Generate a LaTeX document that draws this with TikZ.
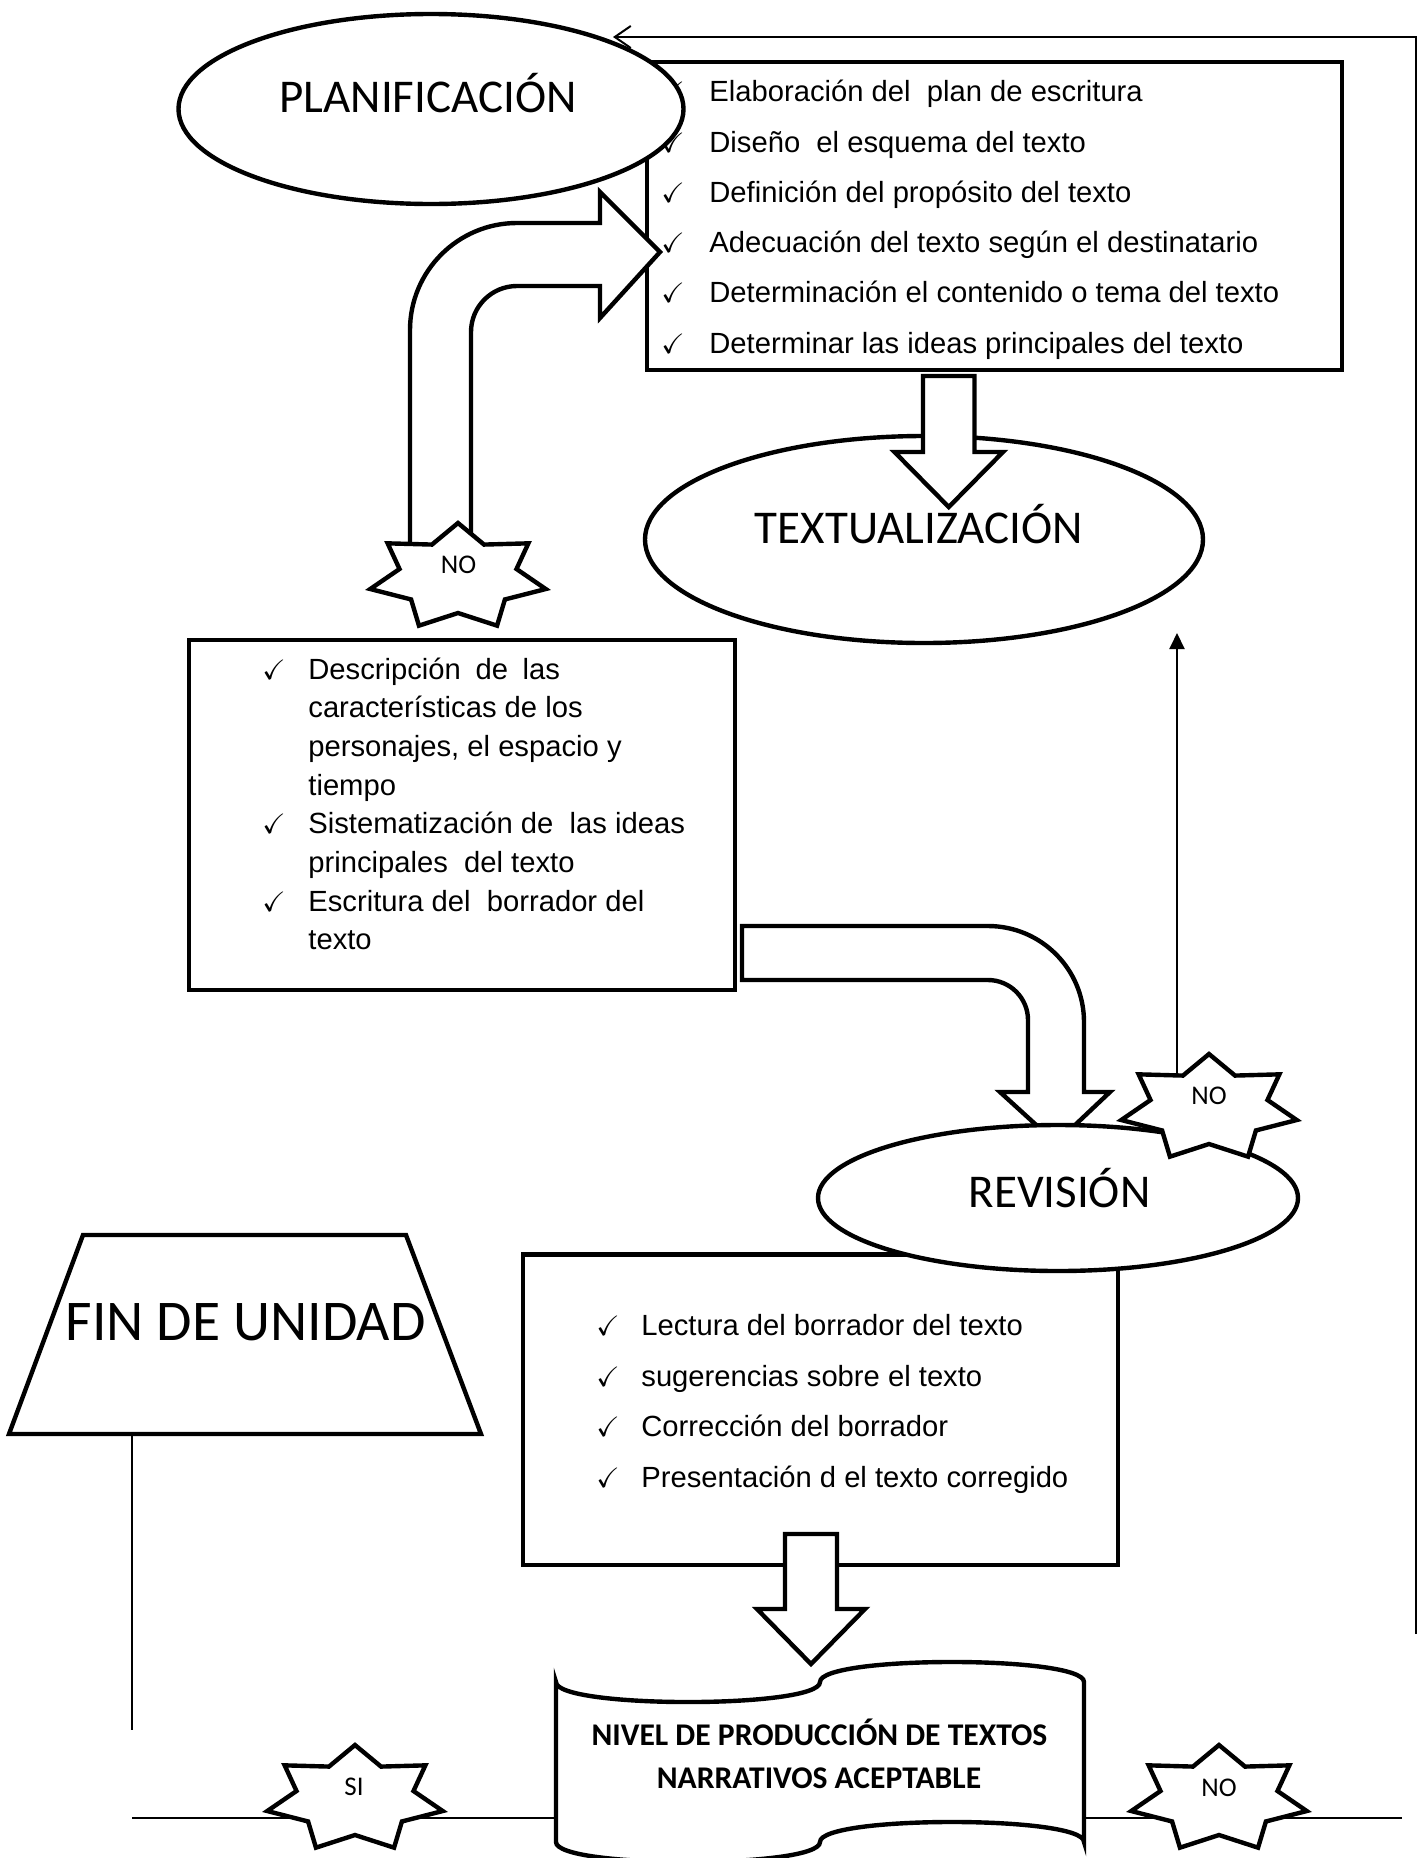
\documentclass[tikz,border=0pt]{standalone}
\usepackage{amssymb}
\usepackage{fontspec}
\setmainfont{Liberation Sans}
\newfontfamily\calib{Carlito}
\usetikzlibrary{shapes.geometric,arrows.meta}
\newcommand{\twosp}{\hspace{0.556em}}
\begin{document}
\begin{tikzpicture}[x=0.5pt,y=-0.5pt,
  thk/.style={line width=2.2pt},
  thn/.style={line width=1pt},
  item/.style={anchor=base west, inner sep=0pt, font=\fontsize{14.6}{17}\selectfont},
  chk/.style={anchor=base west, inner sep=0pt, font=\fontsize{14}{14}\selectfont},
  big/.style={anchor=base, inner sep=0pt, font=\calib\fontsize{23.5}{28}\selectfont},
  ell/.style={ellipse, draw, thk, fill=white, inner sep=0pt, outer sep=0pt},
  boxx/.style={rectangle, draw, thk, fill=white, inner sep=0pt, outer sep=0pt},
  startxt/.style={anchor=base, inner sep=0pt, font=\calib\fontsize{13.5}{16}\selectfont},
  blockarrow/.style={thk, fill=white, line join=miter},
  sevstar/.pic={\draw[thk, fill=white, line join=miter] (-90:90 and 54)
     \foreach \i in {0,...,6}{ -- ({-90+\i*360/7+180/7}:60 and 36) -- ({-90+(\i+1)*360/7}:90 and 54)} -- cycle;}
]
\useasboundingbox (0,0) rectangle (1427,1858);
\clip (0,0) rectangle (1427,1858);

% feedback connector (right side, back to PLANIFICACION)
\coordinate (rb) at (1416,1634);
\coordinate (rt) at (1416,37);
\coordinate (pt) at (613,37);
\draw[thn, -{Straight Barb[length=8pt,width=11pt]}] (rb) -- (rt) -- (pt);

% Box 1
\node[boxx, minimum width=347.5pt, minimum height=154pt] (b1) at (994.5,216) {};
\foreach \t [count=\i from 0] in {Elaboración del\twosp plan de escritura,
   Diseño\twosp el esquema del texto, Definición del propósito del texto,
   Adecuación del texto según el destinatario, Determinación el contenido o tema del texto,
   Determinar las ideas principales del texto}{
  \node[chk] (b1c\i) at (661,{101.7+50.3*\i}) {$\checkmark$};
  \node[item] (b1t\i) at (709,{101.7+50.3*\i}) {\t};
}

% PLANIFICACION
\node[ell, minimum width=252.5pt, minimum height=95pt] (plan) at (431,109) {};
\node[big] (plantxt) at (428,112) {PLANIFICACIÓN};

% curved block arrow (NO -> box 1)
\draw[blockarrow] (410,555) -- (410,330) .. controls (410,271) and (458,223) .. (517,223)
  -- (600,223) -- (600,192) -- (660,252) -- (600,318) -- (600,286) -- (517,286)
  .. controls (491.6,286) and (471,306.6) .. (471,332) -- (471,555) -- cycle;

% star NO 1
\pic at (458,577) {sevstar};
\node[startxt] (no1) at (458.5,573) {NO};

% TEXTUALIZACION
\node[ell, minimum width=279pt, minimum height=103.5pt] (text) at (924,539.5) {};
\node[big] (texttxt) at (919,543) {TEXTUALIZACIÓN};
\draw[blockarrow] (923,376) -- (974.5,376) -- (974.5,452) -- (1003,452) -- (948.75,507)
  -- (894.5,452) -- (923,452) -- cycle;

% Box 2
\node[boxx, minimum width=273pt, minimum height=175pt] (b2) at (462,815) {};
\foreach \t [count=\i from 0] in {Descripción\hspace{0.5em}de\hspace{0.5em}las,
   características de los, {personajes, el espacio y}, tiempo,
   Sistematización de\twosp las ideas, principales\twosp del texto,
   Escritura del\twosp borrador del, texto}{
  \node[item] (b2t\i) at (308,{679+38.7*\i}) {\t};
}
\foreach \i in {0,4,6}{
  \node[chk] (b2c\i) at (262,{679+38.7*\i}) {$\checkmark$};
}

% bent block arrow (box 2 -> REVISION)
\draw[blockarrow] (742,926) -- (988,926) .. controls (1041,926) and (1084,969) .. (1084,1022)
  -- (1084,1092) -- (1110,1092) -- (1056,1143) -- (1000,1092) -- (1028,1092) -- (1028,1020)
  .. controls (1028,998) and (1010,980) .. (988,980) -- (742,980) -- cycle;

% Box 3
\node[boxx, minimum width=297.5pt, minimum height=155.25pt] (b3) at (820.5,1409.75) {};
\foreach \t [count=\i from 0] in {Lectura del borrador del texto, sugerencias sobre el texto,
   Corrección del borrador, Presentación d el texto corregido}{
  \node[chk] (b3c\i) at (596,{1335.5+50.7*\i}) {$\checkmark$};
  \node[item] (b3t\i) at (641,{1335.5+50.7*\i}) {\t};
}

% REVISION
\node[ell, minimum width=240pt, minimum height=73pt] (rev) at (1058,1198) {};
\node[big] (revtxt) at (1059.5,1207) {REVISIÓN};

% NO 2 with thin arrow up to TEXTUALIZACION
\coordinate (s2) at (1177,1080);
\coordinate (tx) at (1177,633);
\draw[thn, -{Triangle[length=8pt,width=7.5pt]}] (s2) -- (tx);
\pic at (1209,1108) {sevstar};
\node[startxt] (no2) at (1209,1104) {NO};

% arrow box 3 -> NIVEL
\draw[blockarrow] (785,1534) -- (837,1534) -- (837,1609) -- (865,1609) -- (811,1664)
  -- (757,1609) -- (785,1609) -- cycle;

% FIN DE UNIDAD
\draw[thk, fill=white, line join=miter] (83,1235) -- (406,1235) -- (481,1434) -- (9,1434) -- cycle;
\node[anchor=base, inner sep=0pt, font=\calib\fontsize{28.8}{33}\selectfont] (fin) at (245.5,1340) {FIN DE UNIDAD};
\coordinate (finb) at (131.5,1434);
\coordinate (fine) at (131.5,1730);
\draw[thn] (finb) -- (fine);

% bottom line
\coordinate (bl) at (132,1818);
\coordinate (br) at (1402,1818);
\draw[thn] (bl) -- (br);

% NIVEL (punched tape)
\draw[thk, fill=white] (556,1682) .. controls (556,1708.7) and (820,1708.7) .. (820,1682)
  .. controls (820,1655.3) and (1084,1655.3) .. (1084,1682) -- (1084,1842)
  .. controls (1084,1815.3) and (820,1815.3) .. (820,1842)
  .. controls (820,1868.7) and (556,1868.7) .. (556,1842) -- cycle;
\node[anchor=base, inner sep=0pt, font=\calib\bfseries\fontsize{15.8}{19}\selectfont] (niv1) at (819.5,1745) {NIVEL DE PRODUCCIÓN DE TEXTOS};
\node[anchor=base, inner sep=0pt, font=\calib\bfseries\fontsize{15.8}{19}\selectfont] (niv2) at (819,1788) {NARRATIVOS ACEPTABLE};

% SI / NO stars at bottom
\pic at (355,1799) {sevstar};
\node[startxt] (si) at (354,1795) {SI};
\pic at (1219,1799) {sevstar};
\node[startxt] (no3) at (1219,1796.7) {NO};
\end{tikzpicture}
\end{document}
